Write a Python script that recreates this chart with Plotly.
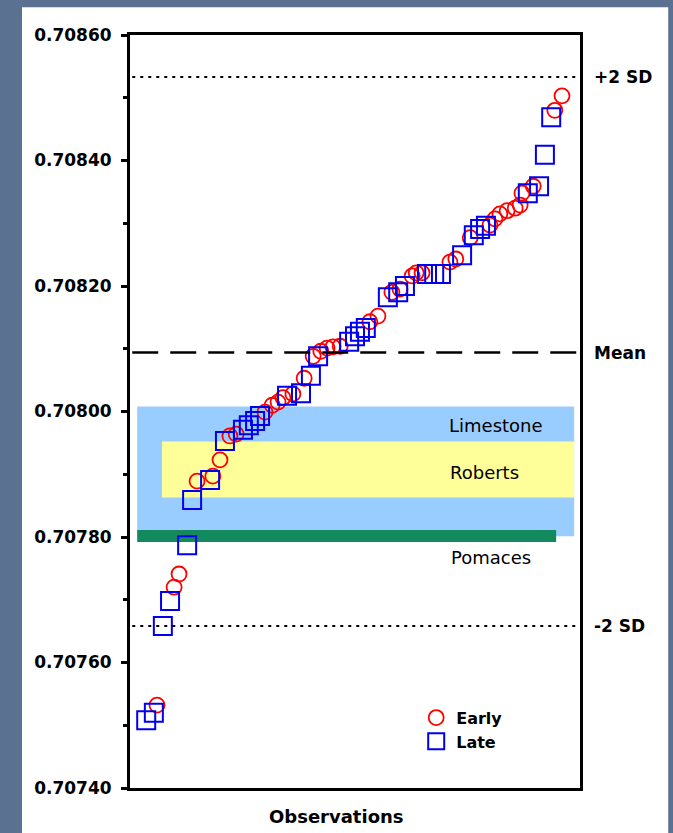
import plotly.graph_objects as go

# ---- data ----
early_obs = [6.0, 9.8, 10.9, 14.9, 18.4, 20.0, 22.2, 23.6, 30.0, 31.6, 32.9, 34.0, 36.2,
             38.7, 40.7, 42.4, 43.8, 45.1, 46.7, 53.3, 55.1, 58.2, 60.0, 62.7, 63.6, 64.9,
             71.1, 72.4, 75.6, 80.0, 81.1, 82.2, 83.8, 85.6, 86.7, 87.1, 89.6, 94.4, 96.0]
early_sr = [0.707532, 0.707720, 0.707741, 0.707889, 0.707897, 0.707923, 0.707961, 0.707964,
            0.707999, 0.708010, 0.708015, 0.708022, 0.708028, 0.708053, 0.708088, 0.708096,
            0.708101, 0.708103, 0.708104, 0.708143, 0.708152, 0.708190, 0.708195, 0.708216,
            0.708221, 0.708221, 0.708238, 0.708243, 0.708277, 0.708297, 0.708307, 0.708315,
            0.708320, 0.708324, 0.708329, 0.708348, 0.708359, 0.708480, 0.708503]

late_obs = [3.6, 5.3, 7.3, 8.9, 12.7, 13.8, 17.8, 21.1, 25.1, 26.4, 27.8, 28.9, 34.9, 38.0,
            40.2, 41.8, 48.7, 50.0, 51.1, 52.4, 57.3, 59.6, 61.1, 66.0, 67.6, 69.1, 73.8,
            76.4, 77.8, 79.1, 88.4, 90.9, 92.2, 93.6]
late_sr = [0.707508, 0.707520, 0.707658, 0.707698, 0.707787, 0.707859, 0.707891, 0.707953,
           0.707971, 0.707978, 0.707985, 0.707993, 0.708025, 0.708029, 0.708057, 0.708088,
           0.708111, 0.708120, 0.708127, 0.708133, 0.708182, 0.708190, 0.708200, 0.708219,
           0.708219, 0.708219, 0.708249, 0.708281, 0.708291, 0.708296, 0.708348, 0.708359,
           0.708409, 0.708469]

y_tick_vals = [0.70740, 0.70760, 0.70780, 0.70800, 0.70820, 0.70840, 0.70860]
y_tick_text = ["0.70740", "0.70760", "0.70780", "0.70800", "0.70820", "0.70840", "0.70860"]

ref_names = ["+2 SD", "Mean", "-2 SD"]
ref_values = [0.708533, 0.708094, 0.707658]

band_names = ["Limestone", "Roberts", "Pomaces"]
band_low = [0.707801, 0.707863, 0.707792]
band_high = [0.708008, 0.707952, 0.707811]
band_obs_start = [1.6, 7.1, 1.6]
band_obs_end = [98.7, 98.7, 94.7]

# ---- style ----
band_colors = ["#99ccff", "#ffff99", "#128a5e"]
band_label_obs = [81.3, 78.7, 80.2]
band_label_sr = [0.707977, 0.707902, 0.707768]
ref_dash = ["3px,5px", "26px,12px", "3px,5px"]
ref_width = [2, 2.5, 2]
FONT = "DejaVu Sans"

fig = go.Figure()

fig.add_trace(go.Scatter(
    x=early_obs, y=early_sr, mode="markers", name="Early",
    marker=dict(symbol="circle-open", size=15, color="#ff0000", line=dict(width=1.8, color="#ff0000")),
))
fig.add_trace(go.Scatter(
    x=late_obs, y=late_sr, mode="markers", name="Late",
    marker=dict(symbol="square-open", size=18, color="#0000ee", line=dict(width=2, color="#0000ee")),
))

shapes = []
# white panel behind everything
shapes.append(dict(type="rect", xref="paper", yref="paper", x0=-0.24, x1=1.196, y0=-0.07, y1=1.037,
                   fillcolor="white", line=dict(width=0), layer="below"))
for lo, hi, xs, xe, c in zip(band_low, band_high, band_obs_start, band_obs_end, band_colors):
    shapes.append(dict(type="rect", xref="x", yref="y", x0=xs, x1=xe, y0=lo, y1=hi,
                       fillcolor=c, line=dict(width=0), layer="below"))
for v, d, w in zip(ref_values, ref_dash, ref_width):
    shapes.append(dict(type="line", xref="paper", yref="y", x0=0.005, x1=1.0, y0=v, y1=v,
                       line=dict(color="black", width=w, dash=d), layer="above"))

annotations = []
for name, ox, oy in zip(band_names, band_label_obs, band_label_sr):
    annotations.append(dict(x=ox, y=oy, xref="x", yref="y", text=name, showarrow=False,
                            font=dict(family=FONT, size=18, color="black")))
for name, v in zip(ref_names, ref_values):
    annotations.append(dict(x=1.027, y=v, xref="paper", yref="y", text=name, showarrow=False,
                            xanchor="left", yanchor="middle",
                            font=dict(family=FONT, size=17, color="black", weight="bold")))
annotations.append(dict(x=0.458, y=-0.038, xref="paper", yref="paper", text="Observations",
                        showarrow=False, xanchor="center", yanchor="middle",
                        font=dict(family=FONT, size=18, color="black", weight="bold")))

fig.update_layout(
    width=673, height=833,
    margin=dict(l=130, r=93, t=35, b=45),
    paper_bgcolor="#5a7191",
    plot_bgcolor="white",
    shapes=shapes,
    annotations=annotations,
    showlegend=True,
    legend=dict(x=0.636, y=0.116, xanchor="left", yanchor="top", bgcolor="rgba(0,0,0,0)",
                font=dict(family=FONT, size=16, color="black", weight="bold"),
                itemwidth=30, tracegroupgap=2),
    xaxis=dict(range=[0, 100], showticklabels=False, ticks="", showgrid=False, zeroline=False,
               showline=True, linecolor="black", linewidth=3, mirror=True),
    yaxis=dict(range=[0.70740, 0.70860], tickmode="array", tickvals=y_tick_vals,
               ticktext=y_tick_text, ticks="outside", ticklen=6, tickwidth=3, tickcolor="black",
               ticklabelstandoff=6,
               tickfont=dict(family=FONT, size=17, color="black", weight="bold"),
               minor=dict(tickmode="array", tickvals=[0.70750, 0.70770, 0.70790, 0.70810, 0.70830, 0.70850],
                          ticks="outside", ticklen=4, tickwidth=3, tickcolor="black", showgrid=False),
               showgrid=False, zeroline=False,
               showline=True, linecolor="black", linewidth=3, mirror=True),
)

fig.write_html("out.html")
